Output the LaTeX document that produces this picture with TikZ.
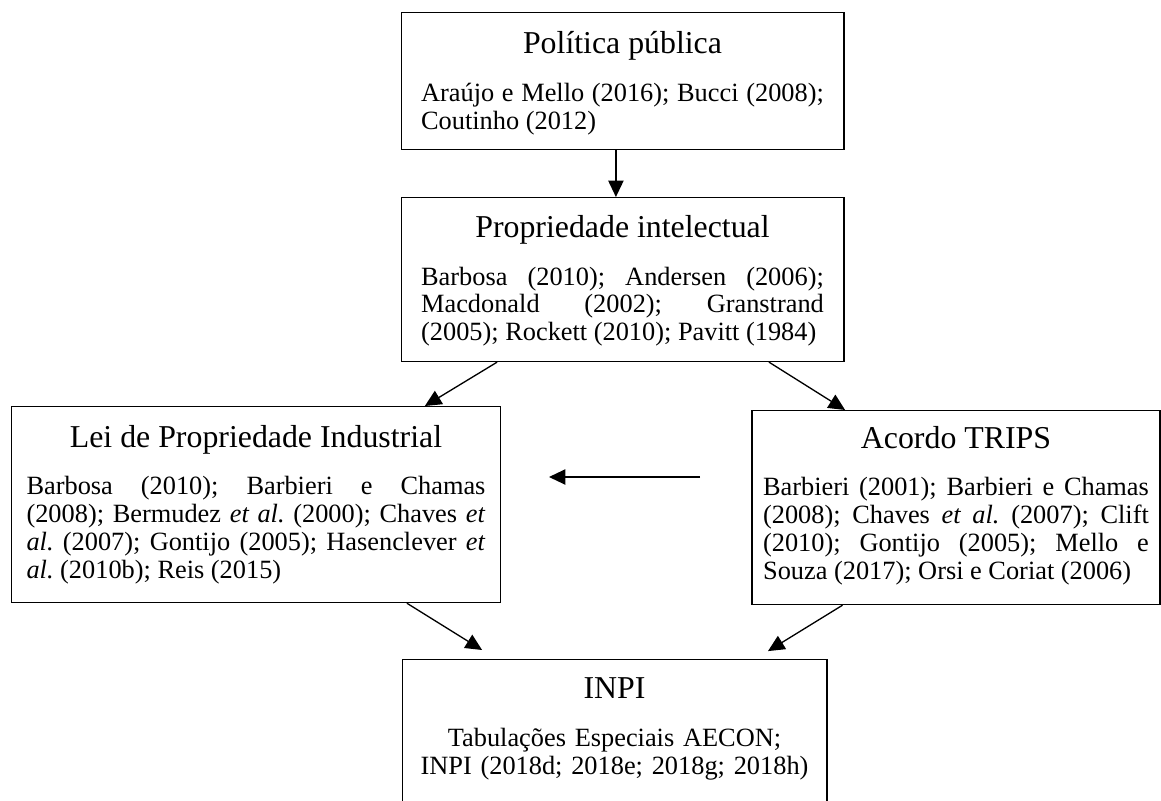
\documentclass[tikz,border=0pt]{standalone}
\usepackage{fontspec}
\setmainfont{Liberation Serif}
\usetikzlibrary{arrows.meta}
\tolerance=10000
\hyphenpenalty=10000
\frenchspacing
\newcommand{\boxtitle}[1]{{\centering\fontsize{14.5}{16}\selectfont #1\par}\vspace{9pt}}
\begin{document}
\begin{tikzpicture}[x=0.016cm,y=-0.016cm,
 box/.style ={rectangle, draw=black, line width=0.6pt, fill=white, align=justify, font=\fontsize{12}{12.7}\selectfont, inner ysep=0pt, anchor=north},
 line/.style ={draw, line width=0.6pt, -{Triangle[length=7.5pt,width=7pt]}}]
\useasboundingbox (0,0) rectangle (1161,800);
\clip (0,0) rectangle (1161,800);

\node[box, text width=183.4pt, inner xsep=9.1pt, text height=18.8pt, text depth=43.6pt] (politica) at (622.5,12) {\boxtitle{Política pública}Araújo e Mello (2016); Bucci (2008);\linebreak Coutinho (2012)};

\node[box, text width=183.4pt, inner xsep=9.1pt, text height=18.1pt, text depth=56.5pt] (propriedade) at (622.5,197) {\boxtitle{Propriedade intelectual}Barbosa (2010); Andersen (2006);\linebreak Macdonald (2002); Granstrand\linebreak (2005); Rockett (2010); Pavitt (1984)};

\node[box, text width=209pt, inner xsep=7pt, text height=18.5pt, text depth=70.7pt] (lei) at (256,406) {\boxtitle{Lei de Propriedade Industrial}Barbosa (2010); Barbieri e Chamas\linebreak (2008); Bermudez \textit{et al.} (2000); Chaves \textit{et}\linebreak \textit{al.} (2007); Gontijo (2005); Hasenclever \textit{et}\linebreak \textit{al.} (2010b); Reis (2015)};

\node[box, text width=175.7pt, inner xsep=5pt, text height=17.1pt, text depth=71.2pt] (trips) at (956,410) {\boxtitle{Acordo TRIPS}Barbieri (2001); Barbieri e Chamas\linebreak (2008); Chaves \textit{et al.} (2007); Clift\linebreak (2010); Gontijo (2005); Mello e\linebreak Souza (2017); Orsi e Coriat (2006)};

\node[box, align=center, text width=185pt, inner xsep=4.2pt, text height=17.8pt, text depth=70pt] (inpi) at (614.5,659) {\boxtitle{INPI}Tabulações Especiais AECON;\\ INPI (2018d; 2018e; 2018g; 2018h)};

\coordinate (hstart) at (700,477);
\coordinate (hend) at (549,477);

\draw[line] ([xshift=-3pt]politica.south) -- ([xshift=-3pt]propriedade.north);
\draw[line] ([xshift=-57.1pt]propriedade.south) -- ([xshift=76.9pt]lei.north);
\draw[line] ([xshift=66.7pt]propriedade.south) -- ([xshift=-50.5pt]trips.north);
\draw[line] (hstart) -- (hend);
\draw[line] ([xshift=68.7pt]lei.south) -- ([xshift=-60.3pt,yshift=4.1pt]inpi.north);
\draw[line] ([xshift=-51.7pt]trips.south) -- ([xshift=69.9pt,yshift=3.6pt]inpi.north);

\end{tikzpicture}
\end{document}
